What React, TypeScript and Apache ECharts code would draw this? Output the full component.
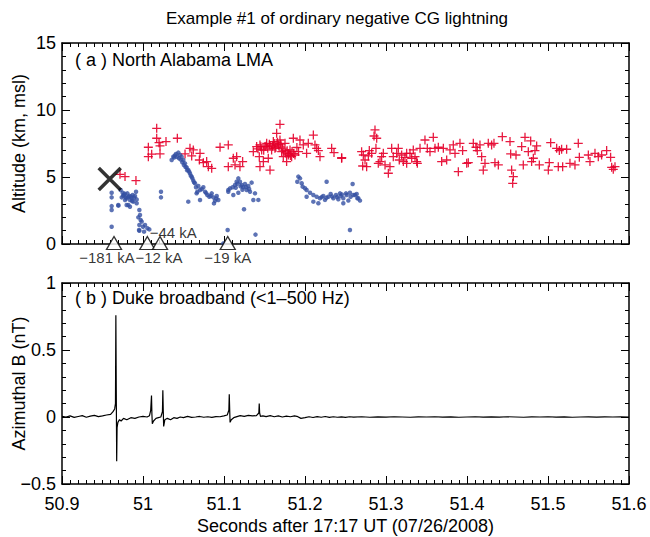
import React, { useEffect, useRef } from "react";
import * as echarts from "echarts";

// ---- Data ----
const xTickLabelsRange = [50.9, 51.6];
const altitudeRange = [0, 15];
const fieldRange = [-0.5, 1];

// LMA sources, positive charge region (red +) : [seconds, km]
const redSources: [number, number][] = [
  [50.9716, 5.2], [50.9778, 5.03], [50.9913, 4.73],
  [51.0066, 7.22], [51.0066, 6.52], [51.0107, 6.7], [51.0169, 8.63], [51.0169, 7.89], [51.0198, 7.56], [51.021, 7.32], [51.0284, 7.64], [51.021, 6.72],
  [51.0424, 7.89], [51.0519, 6.72], [51.058, 7.14], [51.0621, 7.02], [51.0601, 6.57], [51.0704, 6.77], [51.0696, 6.27], [51.0745, 6.07], [51.0786, 6.15], [51.0807, 5.77], [51.0848, 5.65],
  [51.0951, 7.22], [51.1053, 7.39], [51.1115, 6.4], [51.1156, 6.52], [51.1053, 5.77], [51.1136, 5.9], [51.1197, 5.77], [51.123, 6.15],
  [51.1362, 6.89], [51.1403, 7.27], [51.1444, 7.39], [51.1465, 7.02], [51.1436, 6.52], [51.1444, 5.77], [51.1486, 6.15], [51.1506, 7.27], [51.1527, 7.51], [51.1547, 6.4], [51.1568, 7.32], [51.1568, 5.52], [51.1588, 7.02], [51.1609, 7.64], [51.1629, 7.14], [51.165, 8.26], [51.1671, 7.39], [51.1691, 8.93], [51.1691, 7.76], [51.1712, 6.89], [51.1732, 6.52], [51.1753, 7.51], [51.1773, 6.15], [51.1794, 6.64], [51.1815, 7.02], [51.1835, 6.52], [51.1856, 7.89], [51.1876, 6.64],
  [51.142, 7.1], [51.1455, 7.25], [51.149, 7.0], [51.152, 7.3], [51.154, 7.15], [51.156, 7.45], [51.16, 7.3], [51.162, 7.5], [51.164, 7.2], [51.166, 7.6], [51.168, 7.3], [51.17, 7.45], [51.172, 7.15], [51.174, 7.0], [51.176, 6.8], [51.178, 6.95], [51.18, 6.75], [51.182, 6.6], [51.184, 6.9], [51.186, 6.75], [51.19, 7.2], [51.192, 6.9],
  [51.1938, 7.76], [51.1979, 7.39], [51.202, 6.77], [51.2041, 7.51], [51.2103, 8.13], [51.2123, 7.39], [51.2144, 7.14], [51.2165, 6.97], [51.2185, 6.52], [51.2329, 7.14], [51.2358, 6.82], [51.2452, 6.4],
  [51.2453, 6.44], [51.2699, 6.89], [51.272, 6.64], [51.2712, 5.82], [51.2761, 5.77], [51.2782, 6.57], [51.2823, 6.77], [51.2864, 8.51], [51.2852, 8.06], [51.2885, 7.89], [51.2876, 7.14], [51.2946, 6.52], [51.2926, 6.15], [51.2967, 6.77],
  [51.2741, 6.27], [51.2794, 6.97], [51.2905, 6.02], [51.2988, 5.9], [51.3152, 7.14], [51.3255, 6.77], [51.3337, 7.02], [51.3379, 6.15],
  [51.3029, 5.28], [51.3049, 5.77], [51.307, 7.14], [51.309, 6.52], [51.3132, 6.77], [51.3164, 6.27], [51.3193, 6.64], [51.3214, 6.15], [51.3234, 6.47], [51.3255, 6.02], [51.3296, 6.77], [51.3317, 6.4], [51.3358, 6.52], [51.3387, 6.02],
  [51.342, 7.14], [51.3481, 7.76], [51.351, 7.14], [51.3543, 6.89], [51.3584, 7.96], [51.3605, 7.14], [51.3646, 7.22], [51.3687, 6.15], [51.3708, 7.14], [51.3749, 6.27], [51.379, 7.02], [51.3831, 7.39], [51.3852, 6.77], [51.3893, 5.4], [51.3913, 7.51], [51.3946, 6.97], [51.3996, 6.02], [51.4016, 6.07],
  [51.4078, 7.51], [51.4111, 7.22], [51.4127, 6.97], [51.416, 7.39], [51.4181, 6.52], [51.4201, 5.52], [51.4222, 6.02], [51.4263, 7.51], [51.4304, 7.39], [51.4333, 7.51], [51.4345, 6.07], [51.4387, 5.9], [51.4436, 8.01],
  [51.4531, 7.64], [51.4539, 6.72], [51.4551, 5.52], [51.4572, 5.03], [51.4564, 4.53], [51.4605, 6.64], [51.4675, 7.27], [51.4695, 5.9], [51.4716, 7.96], [51.4757, 6.89], [51.4786, 7.69], [51.4798, 6.15], [51.4819, 6.4], [51.4839, 6.97], [51.486, 7.32], [51.4893, 5.9],
  [51.5016, 6.07], [51.5033, 7.56], [51.5004, 5.52], [51.5107, 7.14], [51.514, 6.97], [51.5168, 7.07], [51.5127, 5.77], [51.523, 7.07], [51.5181, 5.77], [51.5271, 6.02], [51.5333, 5.9], [51.5374, 7.51], [51.5387, 6.47],
  [51.5498, 6.64], [51.5518, 6.15], [51.558, 6.77], [51.5621, 6.52], [51.5662, 6.64], [51.5724, 6.97], [51.5773, 6.47], [51.5786, 5.72], [51.5806, 5.57], [51.5827, 5.77],
];

// LMA sources, negative charge region (blue dots) : [seconds, km]
const blueSources: [number, number][] = [
  [50.9613, 3.83], [50.9613, 3.48], [50.9613, 2.83], [50.9613, 2.54], [50.9613, 1.29], [50.9696, 2.86], [50.9695, 2.91], [50.9798, 2.91],
  [50.9724, 4.03], [50.9749, 3.83], [50.9765, 3.66], [50.979, 3.48], [50.9807, 3.78], [50.9831, 3.58], [50.9839, 3.28], [50.986, 3.41], [50.9881, 3.16], [50.9901, 3.58], [50.9914, 3.9], [50.9922, 3.33], [50.9872, 3.66], [50.9819, 2.91], [50.9778, 3.28], [50.9737, 3.48],
  [50.9755, 3.6], [50.9775, 3.75], [50.9795, 3.4], [50.9815, 3.5], [50.985, 3.55], [50.9865, 3.2], [50.989, 3.45], [50.9922, 3.04], [50.9839, 2.78],
  [50.9955, 2.54], [50.9963, 2.16], [50.9942, 1.99], [50.9971, 1.79], [50.9955, 1.42], [50.9984, 1.67], [51.0, 1.29], [50.9955, 0.99], [51.0013, 0.92], [51.0054, 1.17], [51.0078, 1.09], [50.9951, 1.04], [51.0025, 1.42],
  [51.0222, 3.9], [51.0222, 3.48], [51.0559, 3.16], [51.0662, 3.78],
  [51.0354, 6.27], [51.0374, 6.52], [51.0407, 6.72], [51.0436, 6.82], [51.0457, 6.64], [51.0477, 6.52], [51.0498, 6.27], [51.0518, 6.02], [51.0539, 5.72], [51.0559, 5.52], [51.058, 5.27], [51.0601, 5.02], [51.0621, 4.73], [51.0642, 4.53], [51.0654, 4.23], [51.0671, 3.9], [51.0683, 4.33], [51.0704, 4.03], [51.0745, 4.23], [51.0766, 3.9], [51.0794, 3.66], [51.0819, 3.53], [51.0848, 3.78], [51.0868, 3.48], [51.0889, 3.23], [51.091, 3.58], [51.093, 3.28], [51.0876, 3.03], [51.0704, 3.28],
  [51.0385, 6.45], [51.0395, 6.6], [51.042, 6.5], [51.0445, 6.4], [51.0465, 6.3], [51.0485, 6.1], [51.0505, 5.9], [51.0525, 5.75], [51.0545, 5.5], [51.057, 5.4], [51.059, 5.1], [51.061, 4.9], [51.063, 4.6], [51.0725, 4.1], [51.078, 3.8], [51.0835, 3.6], [51.0905, 3.4],
  [51.1053, 4.03], [51.1053, 3.9], [51.1074, 4.15], [51.1107, 4.23], [51.1136, 4.4], [51.1156, 4.65], [51.1177, 4.9], [51.1197, 4.65], [51.1218, 4.4], [51.1238, 4.23], [51.1259, 4.48], [51.128, 4.03], [51.13, 4.33], [51.1321, 3.9], [51.1341, 4.58], [51.1362, 3.28], [51.1115, 3.66], [51.1177, 3.83],
  [51.1145, 4.2], [51.1165, 4.5], [51.1205, 4.3], [51.1228, 4.05], [51.127, 4.25], [51.131, 4.1], [51.1383, 3.78], [51.1424, 3.29],
  [51.1247, 2.59], [51.1389, 0.7], [51.1045, 1.04], [51.0992, 0.05],
  [51.1918, 5.03], [51.1905, 4.65], [51.1938, 4.9], [51.1959, 4.53], [51.1971, 4.28], [51.2, 4.16], [51.202, 4.03], [51.2062, 3.83], [51.2103, 3.66], [51.2144, 3.53], [51.2185, 3.41], [51.2226, 3.58], [51.2247, 3.29], [51.2288, 3.53], [51.2317, 3.73], [51.235, 3.41], [51.2383, 3.66], [51.2411, 3.34], [51.244, 3.58], [51.2473, 3.41], [51.2506, 3.78], [51.2535, 3.24], [51.2563, 3.53], [51.2588, 4.48], [51.2617, 3.66], [51.2646, 3.41],
  [51.2267, 4.65], [51.2103, 3.16], [51.202, 3.53], [51.2165, 3.04], [51.2473, 3.04], [51.2205, 3.5], [51.2265, 3.45], [51.2335, 3.55], [51.2395, 3.5], [51.2455, 3.7],
  [51.2432, 3.78], [51.2514, 3.66], [51.2555, 3.83], [51.2597, 3.66], [51.2638, 3.73], [51.2658, 3.41], [51.2679, 3.24], [51.2555, 1.05],
];

// Initial ground-strike location (black X): [seconds, km]
const strikeOrigin: [number, number][] = [[50.9589, 4.85]];

// NLDN return strokes (triangles at ground)
const strokeTimes = [50.9642, 51.0053, 51.021, 51.1046];
const strokeLabels = ["\u2212181 kA", "\u221244 kA", "\u221212 kA", "\u221219 kA"];

// Duke broadband azimuthal magnetic field (nT)
const waveTimes = [
  50.9, 50.905, 50.91, 50.915, 50.92, 50.925, 50.93, 50.935, 50.94, 50.945, 50.95, 50.955, 50.96, 50.963, 50.965, 50.966, 50.9665, 50.967, 50.9675, 50.968, 50.969, 50.971, 50.973, 50.976, 50.98, 50.985, 50.99, 50.995,
  51.0, 51.005, 51.008, 51.0095, 51.0105, 51.011, 51.0115, 51.013, 51.016, 51.019, 51.022, 51.024, 51.0245, 51.025, 51.0255, 51.027, 51.03, 51.034, 51.038, 51.042, 51.046, 51.05, 51.055, 51.06, 51.065, 51.07, 51.075, 51.08, 51.085, 51.09, 51.095,
  51.1, 51.104, 51.106, 51.1065, 51.107, 51.1075, 51.109, 51.112, 51.116, 51.12, 51.125, 51.13, 51.135, 51.14, 51.143, 51.1435, 51.144, 51.145, 51.148, 51.152, 51.157, 51.162, 51.167, 51.172, 51.177, 51.182, 51.187, 51.19, 51.195,
  51.2, 51.205, 51.21, 51.215, 51.22, 51.225, 51.23, 51.235, 51.24, 51.245, 51.25, 51.255, 51.26, 51.27, 51.28, 51.29, 51.3, 51.31, 51.32, 51.33, 51.34, 51.35, 51.36, 51.37, 51.38, 51.39,
  51.4, 51.41, 51.42, 51.43, 51.44, 51.45, 51.46, 51.47, 51.48, 51.49, 51.5, 51.51, 51.52, 51.53, 51.54, 51.55, 51.56, 51.57, 51.58, 51.59, 51.6,
];
const waveValues = [
  0.005, 0.0, 0.008, -0.003, 0.004, 0.01, -0.002, 0.006, 0.012, 0.003, 0.008, 0.015, 0.02, 0.04, 0.06, 0.1, 0.76, 0.2, -0.33, -0.08, -0.04, -0.02, -0.03, -0.01, -0.02, -0.005, -0.01, 0.0,
  0.005, 0.0, 0.01, 0.05, 0.16, 0.02, -0.05, -0.03, -0.01, -0.005, 0.0, 0.04, 0.2, 0.05, -0.07, -0.02, -0.01, -0.02, -0.005, -0.01, 0.0, -0.005, 0.005, -0.003, 0.0, 0.004, -0.002, 0.002, -0.003, 0.003, 0.002,
  0.008, 0.015, 0.05, 0.17, 0.06, -0.04, -0.02, -0.005, 0.003, 0.01, 0.005, 0.012, 0.008, 0.01, 0.03, 0.1, 0.03, 0.005, 0.008, 0.003, 0.01, 0.002, 0.008, 0.0, 0.006, 0.002, 0.008, 0.005, -0.01,
  -0.005, 0.002, -0.004, 0.003, -0.002, 0.004, -0.003, 0.002, -0.002, 0.001, -0.003, 0.002, -0.001, 0.002, -0.002, 0.001, -0.001, 0.002, 0.0, -0.002, 0.001, 0.0, 0.002, -0.001, 0.001, -0.002,
  0.0, 0.002, -0.001, 0.001, -0.001, 0.002, 0.0, -0.002, 0.001, 0.0, 0.002, -0.001, 0.001, -0.002, 0.0, 0.001, -0.001, 0.001, 0.0, 0.002, 0.0,
];

// ---- Style ----
const FONT = "'Liberation Sans', Arial, Helvetica, sans-serif";
const RED = "#e5002b";
const BLUE = "#3550a3";
const labelOffsets: [number, number][] = [[-7, 14], [26, -11], [-1, 14], [0, 14]];

const PLUS = "path://M5,0L5,10M0,5L10,5";
const CROSS = "path://M0,0L10,10M10,0L0,10";

function frameX(gridIndex: number, position: "bottom" | "top", showLabels: boolean, name?: string) {
  return {
    type: "value",
    gridIndex,
    position,
    min: xTickLabelsRange[0],
    max: xTickLabelsRange[1],
    interval: 0.1,
    name: name || "",
    nameLocation: "middle",
    nameGap: 33,
    nameMoveOverlap: false,
    nameTextStyle: { fontFamily: FONT, fontSize: 18, color: "#000" },
    axisLine: { show: true, onZero: false, lineStyle: { color: "#000", width: 1.5 } },
    axisTick: { show: true, inside: true, length: 8, lineStyle: { color: "#000", width: 1 } },
    minorTick: { show: true, splitNumber: 10, length: 4, lineStyle: { color: "#000", width: 1 } },
    axisLabel: { show: showLabels, fontFamily: FONT, fontSize: 18, color: "#000", margin: 11 },
    splitLine: { show: false },
    minorSplitLine: { show: false },
  };
}

function frameY(gridIndex: number, position: "left" | "right", range: number[], interval: number, showLabels: boolean, name?: string) {
  return {
    type: "value",
    gridIndex,
    position,
    min: range[0],
    max: range[1],
    interval,
    name: name || "",
    nameLocation: "middle",
    nameGap: 34,
    nameMoveOverlap: false,
    nameTextStyle: { fontFamily: FONT, fontSize: 18, color: "#000" },
    axisLine: { show: true, onZero: false, lineStyle: { color: "#000", width: 1.5 } },
    axisTick: { show: true, inside: true, length: 8, lineStyle: { color: "#000", width: 1 } },
    minorTick: { show: true, splitNumber: 5, length: 4, lineStyle: { color: "#000", width: 1 } },
    axisLabel: {
      show: showLabels,
      fontFamily: FONT,
      fontSize: 18,
      color: "#000",
      margin: 6,
      formatter: (v: number) => (v < 0 ? "\u2212" + Math.abs(v) : String(v)),
    },
    splitLine: { show: false },
    minorSplitLine: { show: false },
  };
}

export default function App() {
  const ref = useRef<HTMLDivElement>(null);
  useEffect(() => {
    if (!ref.current) return;
    const chart = echarts.init(ref.current, undefined, { renderer: "svg" });
    const option = {
      animation: false,
      backgroundColor: "#fff",
      textStyle: { fontFamily: FONT },
      grid: [
        { left: 62, top: 43, width: 567, height: 201, containLabel: false, outerBoundsMode: "none" },
        { left: 62, top: 283, width: 567, height: 201, containLabel: false, outerBoundsMode: "none" },
      ],
      xAxis: [
        frameX(0, "bottom", false),
        frameX(0, "top", false),
        frameX(1, "bottom", true, "Seconds after 17:17 UT (07/26/2008)"),
        frameX(1, "top", false),
      ],
      yAxis: [
        frameY(0, "left", altitudeRange, 5, true, "Altitude (km, msl)"),
        frameY(0, "right", altitudeRange, 5, false),
        frameY(1, "left", fieldRange, 0.5, true, "Azimuthal B (nT)"),
        frameY(1, "right", fieldRange, 0.5, false),
      ],
      graphic: [
        {
          type: "text",
          x: 337,
          y: 18,
          style: {
            text: "Example #1 of ordinary negative CG lightning",
            font: `17px ${FONT}`,
            fill: "#000",
            align: "center",
            verticalAlign: "middle",
          },
        },
        {
          type: "text",
          x: 75,
          y: 60,
          style: { text: "( a ) North Alabama LMA", font: `18px ${FONT}`, fill: "#000", verticalAlign: "middle" },
        },
        {
          type: "text",
          x: 75,
          y: 298,
          style: { text: "( b ) Duke broadband (<1\u2013500 Hz)", font: `18px ${FONT}`, fill: "#000", verticalAlign: "middle" },
        },
      ],
      series: [
        {
          type: "scatter",
          xAxisIndex: 0,
          yAxisIndex: 0,
          data: redSources,
          symbol: PLUS,
          symbolSize: 9,
          itemStyle: { color: "rgba(0,0,0,0)", borderColor: RED, borderWidth: 1.3, opacity: 0.9 },
          z: 2,
        },
        {
          type: "scatter",
          xAxisIndex: 0,
          yAxisIndex: 0,
          data: blueSources,
          symbol: "circle",
          symbolSize: 4.5,
          itemStyle: { color: BLUE },
          z: 3,
        },
        {
          type: "scatter",
          xAxisIndex: 0,
          yAxisIndex: 0,
          data: strikeOrigin,
          symbol: CROSS,
          symbolSize: 22,
          itemStyle: { color: "rgba(0,0,0,0)", borderColor: "#000", borderWidth: 3.5 },
          z: 5,
        },
        {
          type: "scatter",
          xAxisIndex: 0,
          yAxisIndex: 0,
          clip: false,
          symbol: "triangle",
          symbolSize: [15, 13],
          symbolOffset: [0, -1],
          itemStyle: { color: "#fff", borderColor: "#000", borderWidth: 1.3 },
          z: 6,
          data: strokeTimes.map((t, i) => ({
            value: [t, 0],
            label: {
              show: true,
              position: "inside",
              offset: labelOffsets[i],
              formatter: strokeLabels[i],
              fontFamily: FONT,
              fontSize: 15,
              color: "#000",
            },
          })),
        },
        {
          type: "line",
          xAxisIndex: 2,
          yAxisIndex: 2,
          data: waveTimes.map((t, i) => [t, waveValues[i]]),
          showSymbol: false,
          symbol: "none",
          lineStyle: { color: "#000", width: 1.2 },
          z: 2,
        },
      ],
    };
    chart.setOption(option as any);
    return () => chart.dispose();
  }, []);
  return (
    <div
      ref={ref}
      style={{ position: "fixed", left: 0, top: 0, width: 650, height: 537, background: "#fff" }}
    />
  );
}
